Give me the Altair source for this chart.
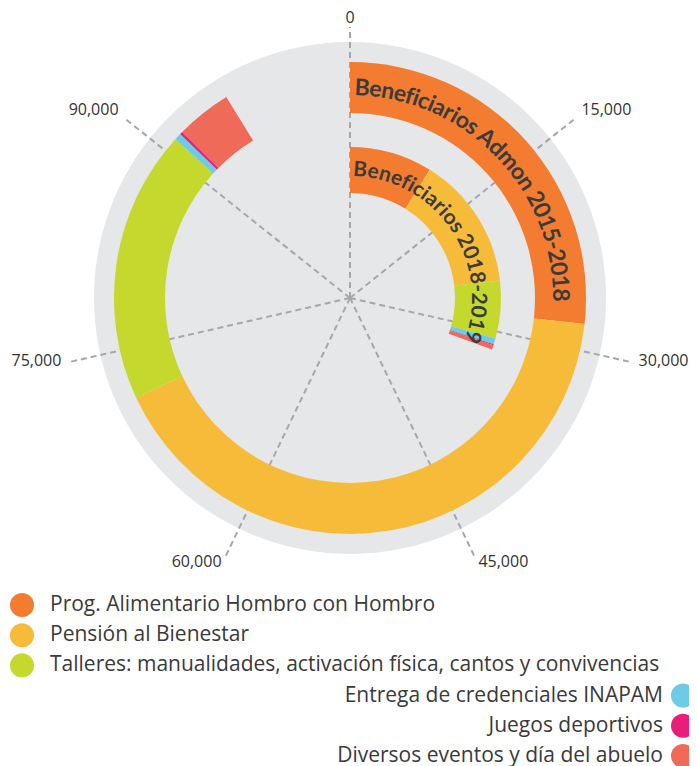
import math
import altair as alt
import pandas as pd

# ---------------- data ----------------
TOTAL = 105000
categories = [
    "Prog. Alimentario Hombro con Hombro",
    "Pensión al Bienestar",
    "Talleres: manualidades, activación física, cantos y convivencias",
    "Entrega de credenciales INAPAM",
    "Juegos deportivos",
    "Diversos eventos y día del abuelo",
]
colors = ["#f47c30", "#f7bb3a", "#c5d82e", "#6dcbe6", "#e91e7a", "#ef6a59"]
outer_values = [28100, 43350, 19630, 500, 200, 4000]   # Beneficiarios Admon 2015-2018
inner_values = [9300, 15000, 6500, 650, 120, 500]      # Beneficiarios 2018-2019
ring_titles = ["Beneficiarios Admon 2015-2018", "Beneficiarios 2018-2019"]
tick_values = [0, 15000, 30000, 45000, 60000, 75000, 90000]
tick_labels = ["0", "15,000", "30,000", "45,000", "60,000", "75,000", "90,000"]

# ---------------- layout ----------------
W, H = 681, 758
CX, CY = 342, 290
center = dict(x=alt.value(CX), y=alt.value(CY))
theta_scale = alt.Scale(domain=[0, TOTAL], range=[0, 2 * math.pi])
color_scale = alt.Scale(domain=categories, range=colors)

# approximate bold glyph advances (em) for laying titles along the arcs
CHAR_W = {"B": 0.653, "e": 0.526, "n": 0.571, "f": 0.338, "i": 0.257, "c": 0.469,
          "a": 0.506, "r": 0.383, "o": 0.569, "s": 0.423, " ": 0.22, "A": 0.706,
          "d": 0.571, "m": 0.866, "-": 0.36}


def segments(values):
    rows, acc = [], 0
    for c, v in zip(categories, values):
        rows.append({"category": c, "start": acc, "end": acc + v})
        acc += v
    return pd.DataFrame(rows)


def char_rows(text, start_deg, end_deg):
    widths = [CHAR_W.get(ch, 0.58) for ch in text]
    total = sum(widths)
    rows, acc = [], 0.0
    for ch, w in zip(text, widths):
        c = acc + w / 2
        acc += w
        deg = start_deg + (end_deg - start_deg) * c / total
        if ch != " ":
            rows.append({"ch": ch, "pos": deg / 360 * TOTAL, "rot": deg})
    return pd.DataFrame(rows)


disk = alt.Chart(pd.DataFrame({"d": [0]})).mark_arc(
    color="#e6e7e8", theta=0, theta2=2 * math.pi, radius=256, radius2=0
).encode(**center)

spokes = alt.Chart(pd.DataFrame({"v": tick_values})).transform_calculate(
    a=f"2*PI*datum.v/{TOTAL}",
    r="datum.v == 0 ? 271 : 287",
).transform_calculate(
    x0=str(CX), y0=str(CY),
    x1=f"{CX} + datum.r*sin(datum.a)",
    y1=f"{CY} - datum.r*cos(datum.a)",
).mark_rule(color="#a5a7aa", strokeWidth=2, strokeDash=[6, 4]).encode(
    x=alt.X("x0:Q", scale=None), y=alt.Y("y0:Q", scale=None),
    x2="x1:Q", y2="y1:Q",
)


def ring(values, r_out, r_in):
    return alt.Chart(segments(values)).mark_arc().encode(
        theta=alt.Theta("start:Q", scale=theta_scale, stack=None),
        theta2="end:Q",
        radius=alt.value(r_out), radius2=alt.value(r_in),
        color=alt.Color("category:N", scale=color_scale, legend=None),
        **center,
    )


outer = ring(outer_values, 236, 185)
inner = ring(inner_values, 151, 105)


def ring_text(text, start_deg, end_deg, r, size):
    return alt.Chart(char_rows(text, start_deg, end_deg)).mark_text(
        font="Lato", fontWeight="bold", fontSize=size, color="#3b3b3b",
        align="center", baseline="middle",
    ).encode(
        text="ch:N",
        theta=alt.Theta("pos:Q", scale=theta_scale),
        radius=alt.value(r),
        angle=alt.Angle("rot:Q", scale=None),
        **center,
    )


outer_text = ring_text(ring_titles[0], 1.3, 91.0, 210, 23)
inner_text = ring_text(ring_titles[1], 1.3, 110.5, 128, 21)

ticks_df = pd.DataFrame({"v": tick_values, "label": tick_labels})
ticks_df["side"] = ["center" if v == 0 else ("left" if math.sin(2 * math.pi * v / TOTAL) > 0 else "right")
                    for v in tick_values]


def tick_layer(side, r, dy):
    return alt.Chart(ticks_df).transform_filter(f"datum.side == '{side}'").mark_text(
        font="Open Sans", fontSize=16, color="#333333", align=side, baseline="middle", dy=dy
    ).encode(
        text="label:N",
        theta=alt.Theta("v:Q", scale=theta_scale),
        radius=alt.value(r),
        **center,
    )


tick_center = tick_layer("center", 280, 0)
tick_left = tick_layer("left", 296, -3)
tick_right = tick_layer("right", 296, -3)

leg_df = pd.DataFrame({"category": categories,
                       "group": ["left"] * 3 + ["right"] * 3})
leg_y = alt.Y("category:N", scale=alt.Scale(domain=categories, range=[597, 748], type="point", padding=0), axis=None)


def legend_layers(group, cx, tx, align):
    base = alt.Chart(leg_df).transform_filter(f"datum.group == '{group}'")
    dots = base.mark_circle(size=580, opacity=1).encode(
        x=alt.value(cx), y=leg_y,
        color=alt.Color("category:N", scale=color_scale, legend=None),
    )
    txt = base.mark_text(font="Open Sans", fontSize=21, color="#3a3a3a",
                         align=align, baseline="middle").encode(
        x=alt.value(tx), y=leg_y, text="category:N",
    )
    return dots + txt


legend_left = legend_layers("left", 14, 42, "left")
legend_right = legend_layers("right", 675, 655, "right")

chart = alt.layer(
    disk, spokes, outer, inner, outer_text, inner_text,
    tick_center, tick_left, tick_right, legend_left, legend_right,
).resolve_scale(x="independent", y="independent").properties(
    width=W, height=H, padding=0,
    autosize=alt.AutoSizeParams(type="none"),
).configure_view(stroke=None)

chart.save("out.html", embed_options={"renderer": "svg", "actions": False})
